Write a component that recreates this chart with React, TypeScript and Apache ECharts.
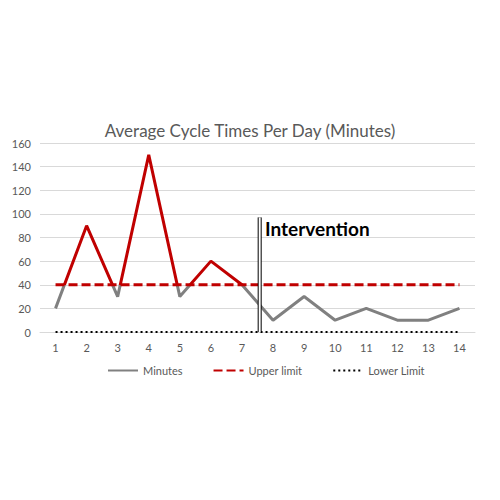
import React, { useEffect, useRef } from "react";
import * as echarts from "echarts";

const days = ["1", "2", "3", "4", "5", "6", "7", "8", "9", "10", "11", "12", "13", "14"];
const minutes = [20, 90, 30, 150, 30, 60, 40, 10, 30, 10, 20, 10, 10, 20];
const upperLimit = [40, 40, 40, 40, 40, 40, 40, 40, 40, 40, 40, 40, 40, 40];
const lowerLimit = [0, 0, 0, 0, 0, 0, 0, 0, 0, 0, 0, 0, 0, 0];
const interventionAt = 7.57;
const interventionRange = [0, 97];
const yTicks = { min: 0, max: 160, interval: 20 };

export default function App() {
  const ref = useRef<HTMLDivElement>(null);
  useEffect(() => {
    if (!ref.current) return;
    const chart = echarts.init(ref.current, null, { renderer: "svg" });
    const font = "Lato, 'Liberation Sans', sans-serif";
    chart.setOption({
      animation: false,
      backgroundColor: "#ffffff",
      title: {
        text: "Average Cycle Times Per Day (Minutes)",
        left: "center",
        top: 117,
        textStyle: { fontFamily: font, fontSize: 17, fontWeight: "normal", color: "#595959" },
      },
      grid: { left: 40, right: 25, top: 143, bottom: 168 },
      legend: {
        data: [
          { name: "Minutes", itemStyle: { color: "#808080", opacity: 0 }, lineStyle: { color: "#808080" } },
          { name: "Upper limit", itemStyle: { color: "#c00000", opacity: 0 } },
          { name: "Lower Limit", itemStyle: { color: "#000000", opacity: 0 } },
        ],
        bottom: 119,
        left: 102,
        itemWidth: 30,
        itemHeight: 10,
        itemGap: 30,
        textStyle: { fontFamily: font, fontSize: 11, color: "#595959" },
      },
      visualMap: {
        show: false,
        seriesIndex: 0,
        dimension: 1,
        pieces: [
          { gte: -1000, lte: 40, color: "#808080" },
          { gt: 40, lte: 1000, color: "#c00000" },
        ],
      },
      xAxis: [
        {
          type: "category",
          data: days,
          boundaryGap: true,
          axisLine: { lineStyle: { color: "#d9d9d9" } },
          axisTick: { show: false },
          axisLabel: { fontFamily: font, fontSize: 11, color: "#595959", margin: 10 },
        },
        {
          type: "value",
          min: 0.5,
          max: 14.5,
          show: false,
        },
      ],
      yAxis: {
        type: "value",
        min: yTicks.min,
        max: yTicks.max,
        interval: yTicks.interval,
        axisLine: { show: false },
        axisTick: { show: false },
        axisLabel: { fontFamily: font, fontSize: 11, color: "#595959", margin: 9 },
        splitLine: { lineStyle: { color: "#d9d9d9" } },
      },
      graphic: [
        {
          type: "text",
          left: 265,
          top: 219,
          style: {
            text: "Intervention",
            fontFamily: font,
            fontSize: 19,
            fontWeight: "bold",
            fill: "#000000",
          },
          z: 100,
        },
      ],
      series: [
        {
          name: "Minutes",
          type: "line",
          data: minutes,
          symbol: "none",
          lineStyle: { width: 3 },
          z: 3,
        },
        {
          name: "Upper limit",
          type: "line",
          data: upperLimit,
          symbol: "none",
          lineStyle: { width: 3, color: "#c00000", type: [9, 4] },
          itemStyle: { color: "#c00000" },
          z: 4,
        },
        {
          name: "Lower Limit",
          type: "line",
          data: lowerLimit,
          symbol: "none",
          lineStyle: { width: 2, color: "#000000", type: [2, 3] },
          itemStyle: { color: "#000000" },
          z: 4,
        },
        {
          name: "InterventionOuter",
          type: "line",
          xAxisIndex: 1,
          data: interventionRange.map((v) => [interventionAt, v]),
          symbol: "none",
          lineStyle: { width: 4, color: "#000000" },
          z: 5,
          silent: true,
        },
        {
          name: "InterventionInner",
          type: "line",
          xAxisIndex: 1,
          data: interventionRange.map((v) => [interventionAt, v]),
          symbol: "none",
          lineStyle: { width: 2, color: "#ffffff" },
          z: 6,
          silent: true,
        },
      ],
    });
    return () => chart.dispose();
  }, []);
  return (
    <div
      ref={ref}
      style={{ position: "fixed", left: 0, top: 0, width: 500, height: 500 }}
    />
  );
}
